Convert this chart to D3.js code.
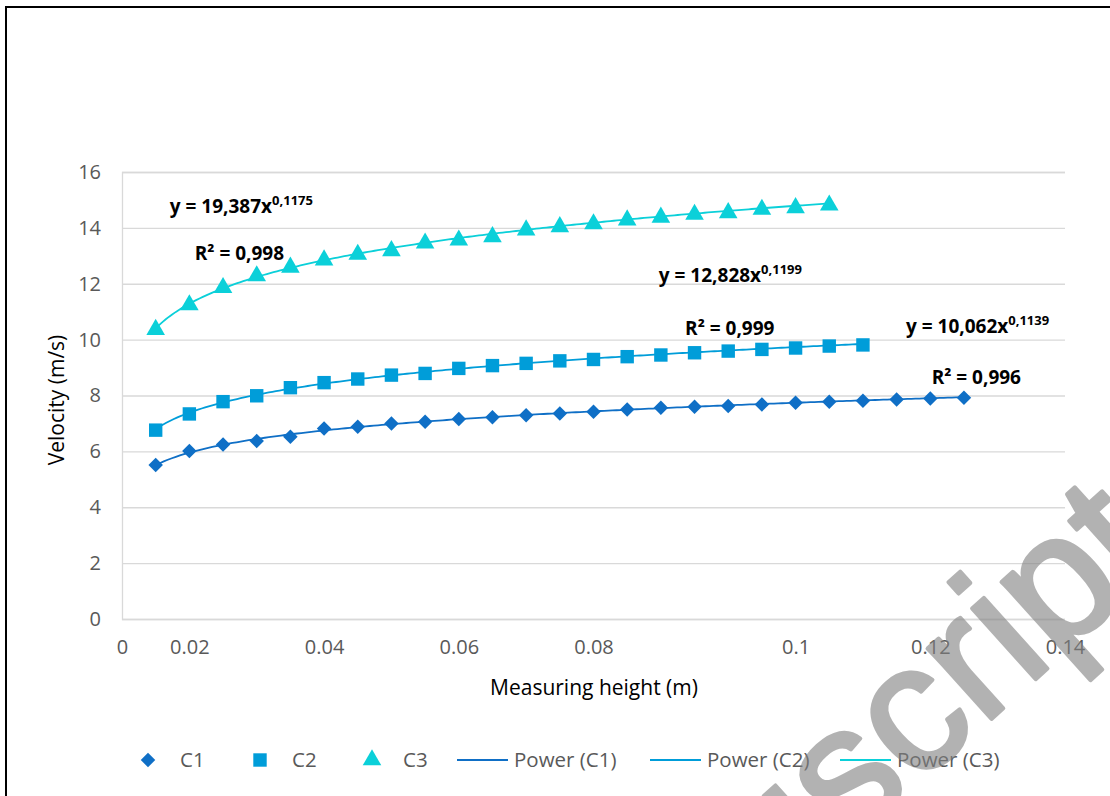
<!DOCTYPE html>
<html><head><meta charset="utf-8">
<script src="https://cdn.jsdelivr.net/npm/d3@7"></script>
<style>body{margin:0;background:#fff} svg{display:block}</style>
</head><body><svg id="c" width="1110" height="796"></svg>
<script>
// ---- data ----
const heights = [0.005,0.010,0.015,0.020,0.025,0.030,0.035,0.040,0.045,0.050,0.055,0.060,0.065,0.070,0.075,0.080,0.085,0.090,0.095,0.100,0.105,0.110,0.115,0.120,0.125];
const c1 = [5.51,6.01,6.25,6.37,6.52,6.82,6.88,7.00,7.06,7.16,7.22,7.29,7.36,7.42,7.50,7.56,7.60,7.62,7.68,7.74,7.78,7.81,7.86,7.89,7.92];
const c2 = [6.76,7.34,7.78,7.99,8.28,8.46,8.59,8.73,8.79,8.97,9.07,9.15,9.24,9.29,9.39,9.45,9.53,9.59,9.65,9.70,9.77,9.81];
const c3 = [10.36,11.24,11.86,12.28,12.59,12.85,13.05,13.18,13.45,13.56,13.68,13.92,14.04,14.14,14.28,14.38,14.48,14.54,14.66,14.72,14.81];
const seriesNames = ["C1","C2","C3"];
const powerA = [10.062,12.828,19.387];
const powerB = [0.1139,0.1199,0.1175];
const eqLabels = ["10,062", "12,828", "19,387"];
const expLabels = ["0,1139", "0,1199", "0,1175"];
const r2Labels = ["0,996", "0,999", "0,998"];
const xTickValues = [0, 0.01, 0.03, 0.05, 0.07, 0.10, 0.12, 0.14];
const xTickLabels = ["0","0.02","0.04","0.06","0.08","0.1","0.12","0.14"];
const yTickValues = [0,2,4,6,8,10,12,14,16];

// ---- styles ----
const colors = ["#0F6FC6","#009DD9","#0BD0D9"];
const FONT = "'Open Sans', sans-serif";
const svg = d3.select("#c");
const x = d3.scaleLinear().domain([0,0.14]).range([122,1065]);
const y = d3.scaleLinear().domain([0,16]).range([619,172]);

// border
svg.append("path").attr("d","M6,800 L6,7 L1115,7").attr("fill","none").attr("stroke","#000").attr("stroke-width",2);

// grid + y axis
const yAxis = d3.axisLeft(y).tickValues(yTickValues).tickSize(-(1065-122)).tickPadding(21).tickFormat(d3.format("d"));
const gy = svg.append("g").attr("transform","translate(122,0)").call(yAxis);
gy.select(".domain").attr("stroke","#d9d9d9").attr("stroke-width",1.3);
gy.selectAll(".tick line").attr("stroke","#d9d9d9").attr("stroke-width",1.3);
gy.selectAll(".tick text").attr("fill","#595959").style("font-family",FONT).style("font-size","20px");

const xAxis = d3.axisBottom(x).tickValues(xTickValues).tickSize(0).tickPadding(21).tickFormat((d,i)=>xTickLabels[i]);
const gx = svg.append("g").attr("transform","translate(0,619)").call(xAxis);
gx.select(".domain").remove();
gx.selectAll(".tick text").attr("fill","#595959").style("font-family",FONT).style("font-size","20px");

// titles
svg.append("text").attr("x",594).attr("y",695).attr("text-anchor","middle").attr("fill","#000")
  .style("font-family",FONT).style("font-size","21px").text("Measuring height (m)");
svg.append("text").attr("transform","translate(64,400) rotate(-90)").attr("text-anchor","middle").attr("fill","#000")
  .style("font-family",FONT).style("font-size","21px").text("Velocity (m/s)");

// trend lines
const allData = [c1,c2,c3];
const line = d3.line().x(d=>x(d[0])).y(d=>y(d[1]));
allData.forEach((vals,i)=>{
  const x0 = heights[0], x1 = heights[vals.length-1];
  const pts = d3.range(0,201).map(k=>{const xv = x0+(x1-x0)*k/200; return [xv, powerA[i]*Math.pow(xv,powerB[i])];});
  svg.append("path").datum(pts).attr("d",line).attr("fill","none").attr("stroke",colors[i]).attr("stroke-width",1.8);
});

// markers
function sym(i){
  if(i===0) return d3.symbol().type(d3.symbolSquare).size(105)();
  if(i===1) return d3.symbol().type(d3.symbolSquare).size(180)();
  return d3.symbol().type(d3.symbolTriangle).size(150)();
}
allData.forEach((vals,i)=>{
  svg.append("g").selectAll("path").data(vals).join("path")
    .attr("d",sym(i))
    .attr("transform",(d,k)=>`translate(${x(heights[k])},${y(d)})`+(i===0?" rotate(45)":""))
    .attr("fill",colors[i]);
});

// equation labels (anchored in data coords)
const eqAt = [[0.1164,10.25],[0.0797,12.05],[0.0071,14.55]];
const r2At = [[0.1202,8.40],[0.0836,10.15],[0.0108,12.85]];
[0,1,2].forEach(i=>{
  const t = svg.append("text").attr("x",x(eqAt[i][0])).attr("y",y(eqAt[i][1]))
    .style("font-family",FONT).style("font-size","19px").style("font-weight","bold").attr("fill","#000");
  t.append("tspan").text(`y = ${eqLabels[i]}x`);
  t.append("tspan").attr("dy",-8).style("font-size","13px").text(expLabels[i]);
  svg.append("text").attr("x",x(r2At[i][0])).attr("y",y(r2At[i][1]))
    .style("font-family",FONT).style("font-size","19px").style("font-weight","bold").attr("fill","#000")
    .text(`R² = ${r2Labels[i]}`);
});

// legend
const lg = svg.append("g").attr("transform","translate(0,760)");
const legSym = [148,260,372];
const legTxt = [180,292,403];
[0,1,2].forEach(i=>{
  lg.append("path").attr("d",sym(i)).attr("transform",`translate(${legSym[i]},0)`+(i===0?" rotate(45)":"")).attr("fill",colors[i]);
  lg.append("text").attr("x",legTxt[i]).attr("y",7).attr("fill","#595959").style("font-family",FONT).style("font-size","20.5px").text(seriesNames[i]);
});
const legLine = [457,650,840];
[0,1,2].forEach(i=>{
  lg.append("line").attr("x1",legLine[i]).attr("x2",legLine[i]+51).attr("y1",0).attr("y2",0).attr("stroke",colors[i]).attr("stroke-width",2);
  lg.append("text").attr("x",legLine[i]+57).attr("y",7).attr("fill","#595959").style("font-family",FONT).style("font-size","20.5px").text(`Power (${seriesNames[i]})`);
});

// watermark
svg.append("g").attr("opacity",0.6).append("text").attr("transform","translate(1168,560) rotate(-42)").attr("text-anchor","end")
  .style("font-family","'Liberation Sans', Arial, sans-serif").style("font-size","180px")
  .attr("fill","#808080").attr("stroke","#808080").attr("stroke-width",4).attr("stroke-linejoin","round").text("Manuscript");
</script></body></html>
